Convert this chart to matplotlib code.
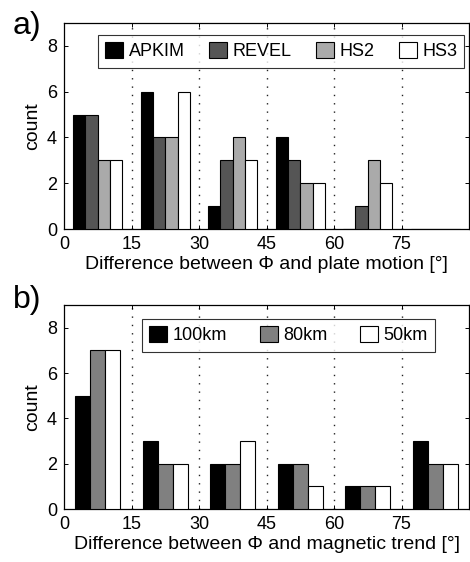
import matplotlib
matplotlib.use("Agg")
import matplotlib.pyplot as plt
import numpy as np

plt.rcParams['font.family'] = ['Liberation Sans', 'DejaVu Sans']

bin_centers = [7.5, 22.5, 37.5, 52.5, 67.5, 82.5]
xticks = [0, 15, 30, 45, 60, 75]
yticks = [0, 2, 4, 6, 8]

# Panel a
a_labels = ["APKIM", "REVEL", "HS2", "HS3"]
apkim = [5, 6, 1, 4, 0, 0]
revel = [5, 4, 3, 3, 1, 0]
hs2 = [3, 4, 4, 2, 3, 0]
hs3 = [3, 6, 3, 2, 2, 0]
a_colors = ["#000000", "#555555", "#aaaaaa", "#ffffff"]

# Panel b
b_labels = ["100km", "80km", "50km"]
km100 = [5, 3, 2, 2, 1, 3]
km80 = [7, 2, 2, 2, 1, 2]
km50 = [7, 2, 3, 1, 1, 2]
b_colors = ["#000000", "#808080", "#ffffff"]

W, H = 470, 562
fig = plt.figure(figsize=(W / 100, H / 100), dpi=100)


def fig_rect(x0, y0, x1, y1):
    return [x0 / W, 1 - y1 / H, (x1 - x0) / W, (y1 - y0) / H]


ax_a = fig.add_axes(fig_rect(64, 23, 469, 229))
ax_b = fig.add_axes(fig_rect(64, 305, 469, 509))
ax_top = {ax_a: 23, ax_b: 305}


def draw(ax, series, labels, colors, xlabel, legend_xy, colspace):
    n = len(series)
    groupw = 15 * min(0.8, n / (n + 1.5))
    w = groupw / n
    centers = np.array(bin_centers)
    handles = []
    for i, (vals, lab, col) in enumerate(zip(series, labels, colors)):
        offs = -groupw / 2 + w * (i + 0.5)
        h = ax.bar(centers + offs, vals, width=w, color=col, edgecolor='black',
                   linewidth=0.8, label=lab, zorder=3)
        handles.append(h)
    for x in xticks[1:]:
        ax.axvline(x, color='#222222', linestyle=(0, (1, 5)), linewidth=1.0, zorder=1)
    ax.set_xlim(0, 90)
    ax.set_ylim(0, 9)
    ax.set_xticks(xticks)
    ax.set_yticks(yticks)
    ax.tick_params(direction='in', length=3, width=0.7, labelsize=13,
                   top=True, right=True, pad=5)
    for s in ax.spines.values():
        s.set_linewidth(0.9)
    ax.set_xlabel(xlabel, fontsize=14, labelpad=2)
    ax.set_ylabel("count", fontsize=14, labelpad=4)
    lx, ly = legend_xy
    anchor = ((lx - 64) / 405, 1 - (ly - ax_top[ax]) / 206)
    leg = ax.legend(handles=handles, loc='upper left', bbox_to_anchor=anchor,
                    ncol=n, fontsize=13, frameon=True, fancybox=False,
                    edgecolor='black', handlelength=1.0, handleheight=1.0,
                    handletextpad=0.3, columnspacing=colspace, borderpad=0.4,
                    borderaxespad=0.0)
    leg.get_frame().set_linewidth(0.8)


draw(ax_a, [apkim, revel, hs2, hs3], a_labels, a_colors,
     "Difference between \u03a6 and plate motion [\u00b0]", (98, 35), 1.35)
draw(ax_b, [km100, km80, km50], b_labels, b_colors,
     "Difference between \u03a6 and magnetic trend [\u00b0]", (142, 319), 1.8)

fig.text(13 / W, 1 - 26 / H, "a)", fontsize=23, ha='left', va='center')
fig.text(13 / W, 1 - 300 / H, "b)", fontsize=23, ha='left', va='center')

fig.savefig("out.png", dpi=100)
